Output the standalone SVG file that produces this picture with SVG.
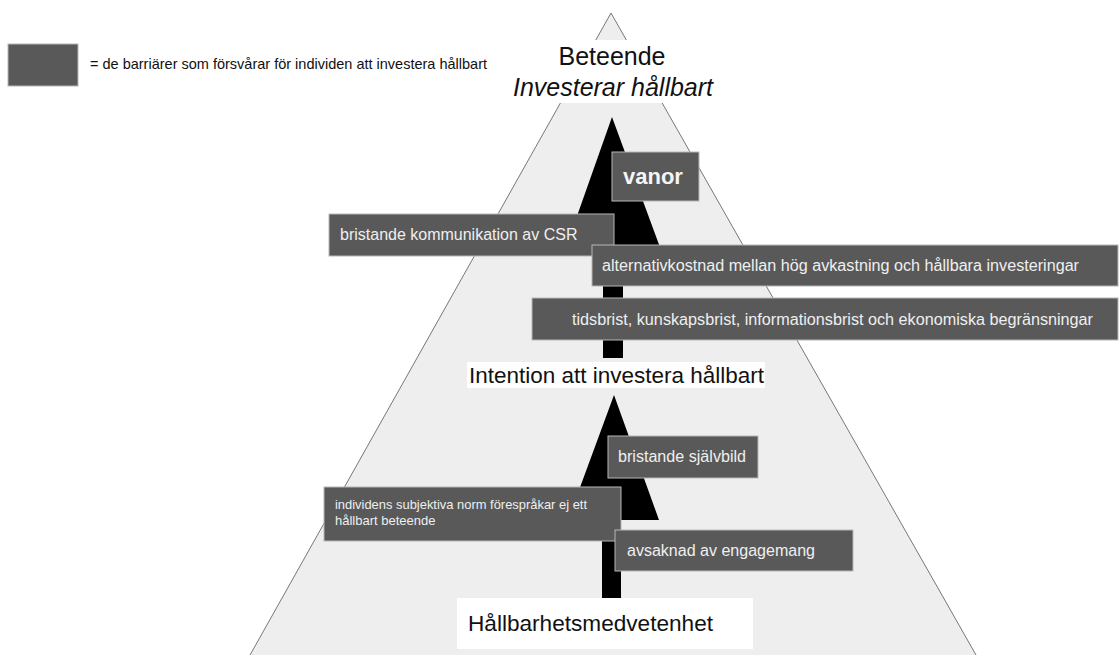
<svg xmlns="http://www.w3.org/2000/svg" width="1120" height="655" viewBox="0 0 1120 655">
<style>
text{font-family:"Liberation Sans",Arial,sans-serif}
.bar{fill:#595959;stroke:#b8b8b8;stroke-width:1}
.bt{fill:#efefef;font-size:16px}
.lbl{fill:#111;font-size:22.5px}
.wbg{fill:#ffffff}
.arrow{fill:#000}
</style>
<rect width="1120" height="655" fill="#fff"/>
<g id="pyramid">
<polygon points="611,13 244.4,665 981.7,665" fill="#eeeeee" stroke="#777777" stroke-width="1"/>
</g>
<g id="legend">
<rect class="bar" x="8" y="44" width="70" height="42"/>
<text x="90" y="69" style="fill:#111;font-size:14.5px" textLength="397" lengthAdjust="spacingAndGlyphs">= de barriärer som försvårar för individen att investera hållbart</text>
</g>
<g id="connectors">
<polygon class="arrow" points="612,117 661,250 623,250 623,358 603,358 603,250 565,250"/>
<polygon class="arrow" points="614,395 659,520 621,520 621,611 602,611 602,520 568,520"/>
</g>
<g id="beteende">
<rect class="wbg" x="555" y="40" width="115" height="33"/>
<rect class="wbg" x="505" y="72" width="217" height="31"/>
<text class="lbl" x="612" y="65" text-anchor="middle" style="font-size:25px">Beteende</text>
<text class="lbl" x="613" y="96" text-anchor="middle" style="font-size:25px;font-style:italic">Investerar hållbart</text>
</g>
<g id="intention">
<rect class="wbg" x="467" y="362" width="298" height="26"/>
<text class="lbl" x="469" y="383" textLength="295" lengthAdjust="spacingAndGlyphs">Intention att investera hållbart</text>
</g>
<g id="medvetenhet">
<rect class="wbg" x="457" y="598" width="296" height="51"/>
<text class="lbl" x="468" y="631" textLength="245" lengthAdjust="spacingAndGlyphs">Hållbarhetsmedvetenhet</text>
</g>
<g id="vanor">
<rect class="bar" x="612" y="152" width="87" height="49"/>
<text x="623" y="184" style="fill:#f5f5f5;font-size:22px;font-weight:bold">vanor</text>
</g>
<g id="csr">
<rect class="bar" x="329" y="214" width="285" height="42"/>
<text class="bt" x="340" y="240">bristande kommunikation av CSR</text>
</g>
<g id="alternativkostnad">
<rect class="bar" x="592" y="245" width="526" height="41"/>
<text class="bt" x="602" y="271" textLength="477" lengthAdjust="spacingAndGlyphs">alternativkostnad mellan hög avkastning och hållbara investeringar</text>
</g>
<g id="tidsbrist">
<rect class="bar" x="532" y="298" width="586" height="42"/>
<text class="bt" x="572" y="325" textLength="521" lengthAdjust="spacingAndGlyphs">tidsbrist, kunskapsbrist, informationsbrist och ekonomiska begränsningar</text>
</g>
<g id="sjalvbild">
<rect class="bar" x="608" y="436" width="150" height="42"/>
<text class="bt" x="618" y="462" textLength="128" lengthAdjust="spacingAndGlyphs">bristande självbild</text>
</g>
<g id="norm">
<rect class="bar" x="324" y="487" width="297" height="54"/>
<text x="335" y="509" style="fill:#efefef;font-size:13px" textLength="252" lengthAdjust="spacingAndGlyphs">individens subjektiva norm förespråkar ej ett</text>
<text x="335" y="525" style="fill:#efefef;font-size:13px">hållbart beteende</text>
</g>
<g id="engagemang">
<rect class="bar" x="615" y="530" width="238" height="41"/>
<text class="bt" x="627" y="556" textLength="188" lengthAdjust="spacingAndGlyphs">avsaknad av engagemang</text>
</g>
</svg>
